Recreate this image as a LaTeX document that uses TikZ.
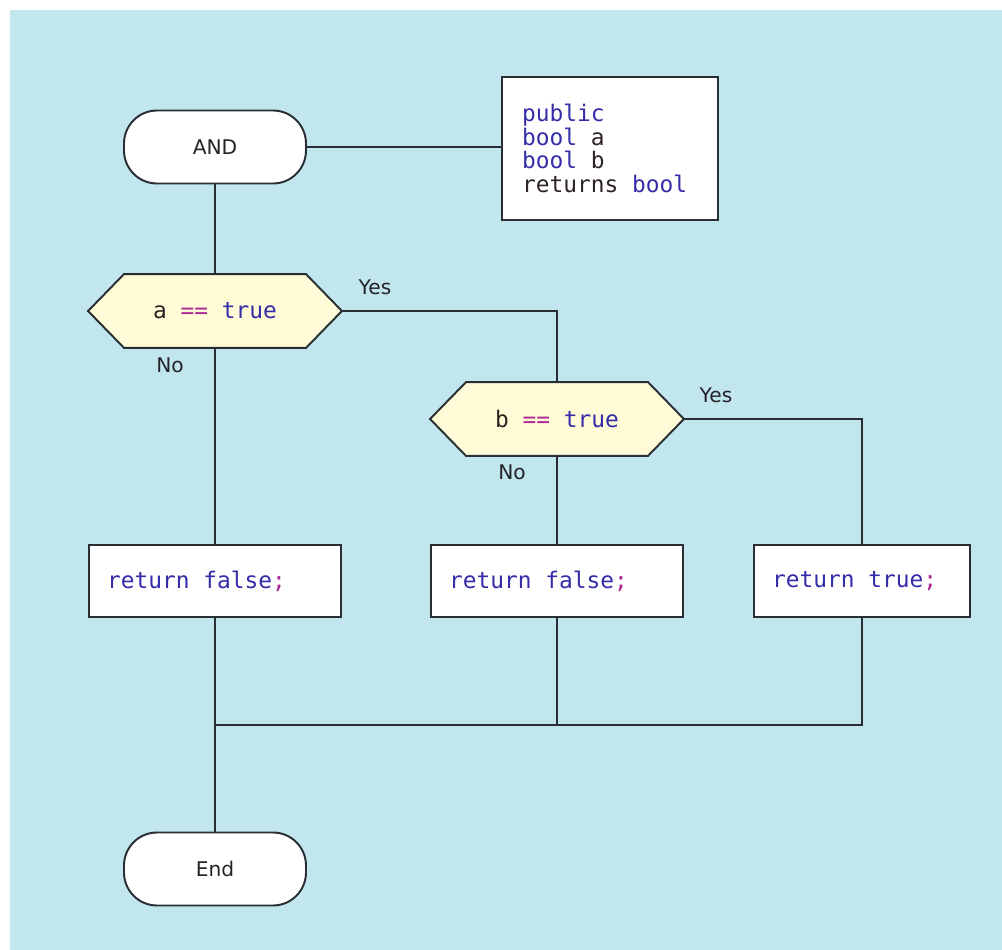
\documentclass[tikz,border=0pt]{standalone}
\usepackage{fontspec}
\setmainfont{DejaVu Sans}
\setmonofont{DejaVu Sans Mono}
\usetikzlibrary{calc,backgrounds}

\definecolor{canvas}{RGB}{194,230,238}
\definecolor{hexfill}{RGB}{255,251,214}
\definecolor{edge}{RGB}{40,46,52}
\definecolor{kw}{RGB}{52,44,168}
\definecolor{op}{RGB}{172,38,150}
\definecolor{ident}{RGB}{45,35,35}
\definecolor{labeltext}{RGB}{35,35,40}

% code colouring helpers and a fixed one-character gap
\newcommand{\kw}[1]{\textcolor{kw}{#1}}
\newcommand{\opr}[1]{\textcolor{op}{#1}}
\newcommand{\idn}[1]{\textcolor{ident}{#1}}
\newcommand{\gap}{\hspace*{0.602em}}

\begin{document}
\begin{tikzpicture}[
  x=0.02cm, y=-0.02cm,
  line width=1.1pt,
  conn/.style={draw=edge, line width=1.1pt},
  terminal/.style={draw=edge, fill=white, rounded corners=0.66cm,
    minimum width=3.64cm, minimum height=1.46cm, inner sep=0pt,
    font=\fontsize{11.5}{13}\selectfont, text=labeltext},
  infobox/.style={draw=edge, fill=white, minimum height=2.86cm,
    inner xsep=0.4cm, inner ysep=0pt, text width=3.52cm, align=left,
    font=\ttfamily\fontsize{13}{13.4}\selectfont},
  decision/.style={minimum width=5.04cm, minimum height=1.44cm, inner sep=0pt,
    font=\ttfamily\fontsize{13}{15}\selectfont},
  hexagon/.style={draw=edge, fill=hexfill, line width=1.1pt},
  action/.style={draw=edge, fill=white, minimum height=1.44cm,
    inner xsep=0.36cm, inner ysep=0pt, align=left,
    font=\ttfamily\fontsize{13}{15}\selectfont},
  branch/.style={font=\fontsize{11.5}{13}\selectfont, text=labeltext, inner sep=0pt}
]
\useasboundingbox (0,0) rectangle (1002,950);

% entry terminal and signature
\node[terminal] (start) at (215,147) {AND};
\node[infobox] (sig) at (610,148.5)
  {\kw{public}\\\kw{bool}\gap\idn{a}\\\kw{bool}\gap\idn{b}\\\idn{returns}\gap\kw{bool}};

% the two tests
\node[decision] (testa) at (215,311) {\idn{a}\gap\opr{==}\gap\kw{true}};
\node[decision] (testb) at (557,419) {\idn{b}\gap\opr{==}\gap\kw{true}};

% return statements
\node[action, text width=4.32cm] (retA) at (215,581) {\kw{return}\gap\kw{false}\opr{;}};
\node[action, text width=4.32cm] (retB) at (557,581) {\kw{return}\gap\kw{false}\opr{;}};
\node[action, text width=3.60cm] (retC) at (862,581) {\kw{return}\gap\kw{true}\opr{;}};

% exit terminal
\node[terminal] (stop) at (215,869) {End};

% branch labels
\node[branch] (yesA) at (375,287) {Yes};
\node[branch] (noA)  at (170,365) {No};
\node[branch] (yesB) at (716,395) {Yes};
\node[branch] (noB)  at (512,472) {No};

% canvas and hexagon outlines behind the texts
\begin{scope}[on background layer]
  \fill[white] (0,0) rectangle (1002,950);
  \fill[canvas] (10,10) rectangle (1002,950);
  \foreach \t in {testa,testb}{
    \draw[hexagon] (\t.west) -- ($(\t.north west)+(36,0)$)
      -- ($(\t.north east)+(-36,0)$) -- (\t.east)
      -- ($(\t.south east)+(-36,0)$) -- ($(\t.south west)+(36,0)$) -- cycle;
  }
\end{scope}

% connectors
\coordinate (join) at (215,725);
\draw[conn] (start.east) -- (start.east -| sig.west);
\draw[conn] (start) -- (testa);
\draw[conn] (testa.east) -| (testb.north);
\draw[conn] (testb.east) -| (retC.north);
\draw[conn] (testa.south) -- (retA.north);
\draw[conn] (testb.south) -- (retB.north);
\draw[conn] (retA.south) -- (stop.north);
\draw[conn] (retC.south) |- (join);
\draw[conn] (retB.south) -- (retB.south |- join);
\end{tikzpicture}
\end{document}
